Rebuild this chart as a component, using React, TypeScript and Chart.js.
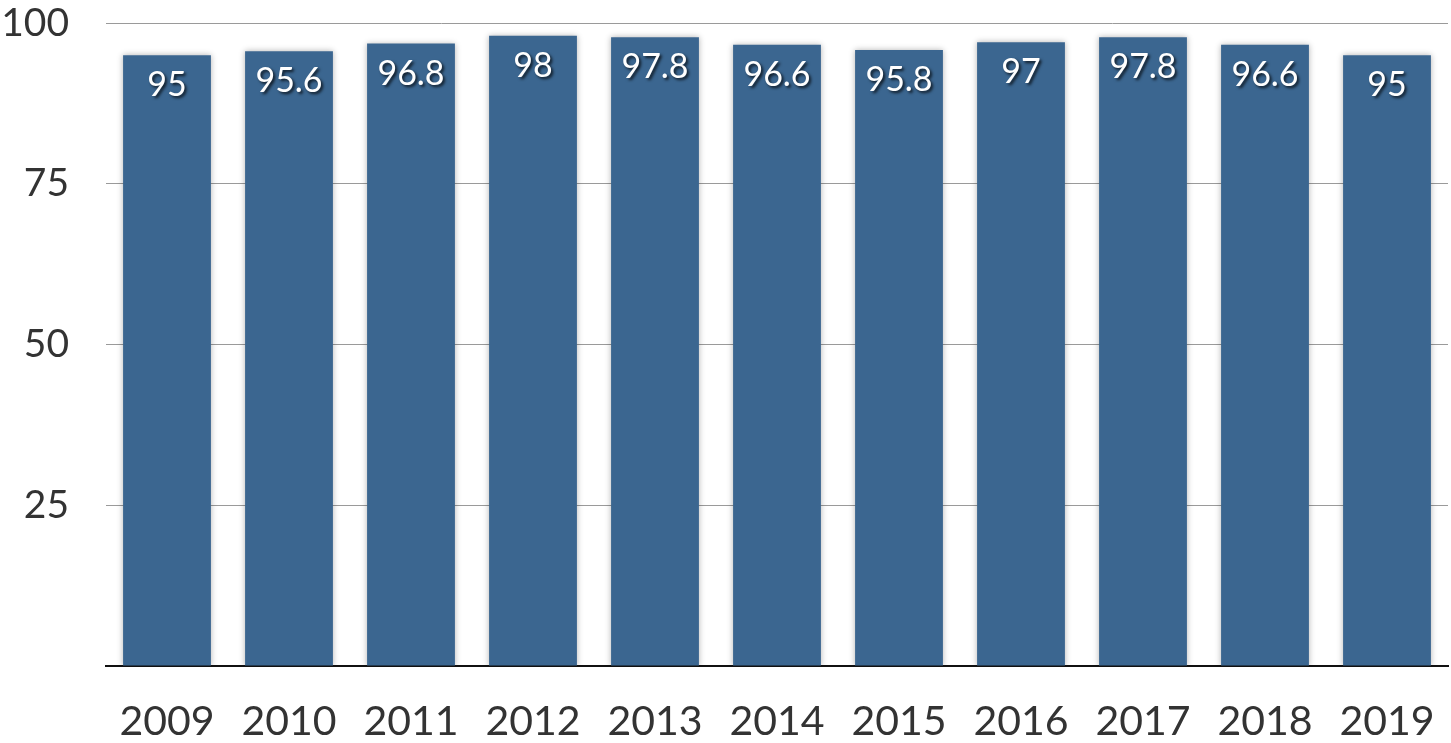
import React, { useEffect, useRef } from "react";
import { Chart, registerables } from "chart.js";

Chart.register(...registerables);

const years = ["2009", "2010", "2011", "2012", "2013", "2014", "2015", "2016", "2017", "2018", "2019"];
const values = [95, 95.6, 96.8, 98, 97.8, 96.6, 95.8, 97, 97.8, 96.6, 95];
const yTicks = [25, 50, 75, 100];

const FONT = "Lato, 'Open Sans', sans-serif";

const barLabels = {
  id: "barLabels",
  beforeDatasetDraw(chart: any) {
    const ctx = chart.ctx;
    ctx.save();
    ctx.shadowColor = "rgba(0,0,0,0.3)";
    ctx.shadowBlur = 6;
    ctx.shadowOffsetX = 0;
    ctx.shadowOffsetY = 0;
  },
  afterDatasetDraw(chart: any) {
    chart.ctx.restore();
  },
  afterDatasetsDraw(chart: any) {
    const ctx = chart.ctx;
    const meta = chart.getDatasetMeta(0);
    ctx.save();
    ctx.font = `34px ${FONT}`;
    ctx.textAlign = "center";
    ctx.textBaseline = "middle";
    ctx.fillStyle = "#ffffff";
    ctx.shadowColor = "rgba(0,0,0,0.75)";
    ctx.shadowBlur = 3;
    ctx.shadowOffsetX = 2;
    ctx.shadowOffsetY = 2;
    meta.data.forEach((bar: any, i: number) => {
      ctx.fillText(String(values[i]), bar.x, bar.y + 30);
    });
    ctx.restore();
  },
};

export default function App() {
  const ref = useRef<HTMLCanvasElement | null>(null);
  useEffect(() => {
    document.body.style.margin = "0";
    const canvas = ref.current;
    if (!canvas) return;
    const chart = new Chart(canvas, {
      type: "bar",
      data: {
        labels: years,
        datasets: [
          {
            data: values,
            backgroundColor: "#3b6690",
            barPercentage: 0.8,
            categoryPercentage: 0.9,
          },
        ],
      },
      options: {
        responsive: false,
        animation: false,
        layout: { padding: { top: 23, right: 3, left: 0, bottom: 0 } },
        plugins: { legend: { display: false }, tooltip: { enabled: false } },
        scales: {
          x: {
            grid: { display: false, drawTicks: false },
            border: { display: true, color: "#111111", width: 2 },
            ticks: {
              color: "#333333",
              font: { family: FONT, size: 41 },
              padding: 31,
              maxRotation: 0,
            },
            afterFit(scale: any) {
              scale.height = 77;
              scale.paddingLeft = 0;
              scale.paddingRight = 0;
            },
          },
          y: {
            min: 0,
            max: 100,
            afterBuildTicks(scale: any) {
              scale.ticks = [0, ...yTicks].map((v) => ({ value: v }));
            },
            grid: {
              drawTicks: false,
              color: (c: any) => (c.tick && c.tick.value === 0 ? "rgba(0,0,0,0)" : "#9a9a9a"),
              lineWidth: 1,
            },
            border: { display: false },
            ticks: {
              color: "#333333",
              font: { family: FONT, size: 39 },
              padding: 37,
              callback: (v: any) => (v === 0 ? "" : String(v)),
            },
            afterFit(scale: any) {
              scale.width = 106;
              scale.paddingTop = 0;
              scale.paddingBottom = 0;
            },
          },
        },
      },
      plugins: [barLabels],
    });
    return () => chart.destroy();
  }, []);
  return (
    <div style={{ width: 1451, height: 743, background: "#ffffff" }}>
      <canvas ref={ref} width={1451} height={743} />
    </div>
  );
}
